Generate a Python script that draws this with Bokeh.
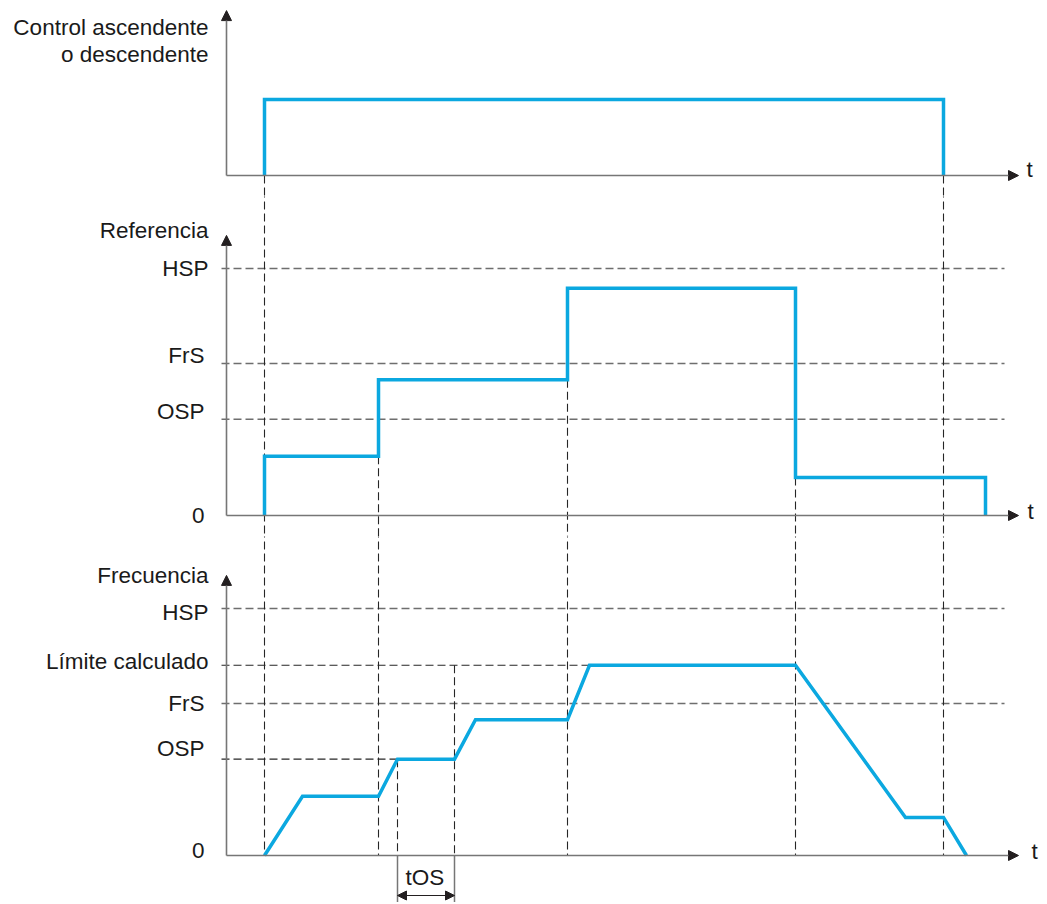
from bokeh.plotting import figure
from bokeh.models import Range1d, Arrow, NormalHead
from bokeh.layouts import column
from bokeh.embed import file_html
from bokeh.resources import INLINE
from bokeh.core.properties import value

# ---------------- data (time in arbitrary units, origin at the vertical axis) ----------------
ctrl_t = [38, 38, 717, 717]
ctrl_v = [0, 1, 1, 0]

ref_t = [38, 38, 152, 152, 341, 341, 569, 569, 759, 759]
ref_v = [0, 24, 24, 55, 55, 92, 92, 15.4, 15.4, 0]

freq_t = [38, 76, 152, 171, 228, 249, 341, 363, 569, 679, 717, 740]
freq_v = [0, 24, 24, 39, 39, 55, 55, 77, 77, 15.4, 15.4, 0]

level_names = ["HSP", "FrS", "OSP", "0"]
level_vals = [100, 61.5, 39, 0]
limit_name = "Límite calculado"
limit_val = 77

ctrl_title = ["Control ascendente", "o descendente"]
ref_title = "Referencia"
freq_title = "Frecuencia"
time_label = "t"
tos_label = "tOS"

# ---------------- styles ----------------
BLUE = "#0BA8E0"
AXIS = "#767676"
HEAD = "#231f20"
GRAY_DASH = "#6e6e6e"
BLACK_DASH = "#262626"
TXT = "#1a1a1a"
FONT = value("Liberation Sans")
FS = "22.5px"

W = 1045
xr = Range1d(-226, -226 + W)
T_END = 792          # end of time axes (arrow tip)
H_END = 778          # end of horizontal dashed lines
H_START = -5


def make_fig(h, y0, y1):
    f = figure(width=W, height=h, x_range=xr, y_range=Range1d(y0, y1),
               output_backend="svg", toolbar_location=None, min_border=0,
               x_axis_location=None, y_axis_location=None,
               outline_line_color=None, background_fill_color="white",
               border_fill_color="white")
    f.grid.visible = False
    return f


def label(f, xs, ys, texts, yoff, align="right"):
    f.text(x=xs, y=ys, text=texts, y_offset=yoff, text_font=FONT,
           text_font_size=FS, text_color=TXT, text_align=align,
           text_baseline="middle")


def axes(f, ytop, t_xoff, t_yoff):
    f.add_layout(Arrow(end=NormalHead(size=10, fill_color=HEAD, line_color=HEAD),
                       x_start=0, y_start=0, x_end=0, y_end=ytop,
                       line_color=AXIS, line_width=1.6))
    f.add_layout(Arrow(end=NormalHead(size=10, fill_color=HEAD, line_color=HEAD),
                       x_start=0, y_start=0, x_end=T_END, y_end=0,
                       line_color=AXIS, line_width=1.6))
    f.text(x=[T_END], y=[0], text=[time_label], text_font=FONT, text_font_size=FS,
           text_color=TXT, text_align="left", text_baseline="middle",
           x_offset=t_xoff, y_offset=t_yoff)


# ---------------- top panel: control ----------------
top = make_fig(196, -0.276, 2.303)
ev_full = [ctrl_t[0], ctrl_t[2]]
top.segment(x0=ev_full, y0=[0, 0], x1=ev_full, y1=[-1, -1],
            line_color=BLACK_DASH, line_width=1.1, line_dash="8 4")
axes(top, 2.17, 8, -6)
top.line(ctrl_t, ctrl_v, line_color=BLUE, line_width=3.5, line_join="miter")
label(top, [-18, -18], [1.947, 1.586], ctrl_title, [0, 0])

# ---------------- middle panel: reference ----------------
mid = make_fig(340, -8.502, 129.15)
gl = level_vals[:3]
mid.segment(x0=[H_START] * 3, y0=gl, x1=[H_END] * 3, y1=gl,
            line_color=GRAY_DASH, line_width=1.5, line_dash="8 4")
# vertical event lines
mid.segment(x0=ev_full, y0=[200, 200], x1=ev_full, y1=[-50, -50],
            line_color=BLACK_DASH, line_width=1.1, line_dash="8 4")
step_t, step_y = [], []
for i in (2, 4, 6):
    step_t.append(ref_t[i])
    step_y.append(min(ref_v[i], ref_v[i + 1]))
mid.segment(x0=step_t, y0=step_y, x1=step_t, y1=[-50] * 3,
            line_color=BLACK_DASH, line_width=1.1, line_dash="8 4")
axes(mid, 113.4, 9, -4)
mid.line(ref_t, ref_v, line_color=BLUE, line_width=3.5, line_join="miter")
label(mid, [-18], [115.4], [ref_title], [0])
label(mid, [-18, -22, -22, -22], level_vals, level_names, [0, -8, -8, 0])

# ---------------- bottom panel: frequency ----------------
bot = make_fig(366, -19.03, 129.15)
bot.segment(x0=[H_START] * 2, y0=[level_vals[0], level_vals[1]],
            x1=[H_END] * 2, y1=[level_vals[0], level_vals[1]],
            line_color=GRAY_DASH, line_width=1.5, line_dash="8 4")
# limit and OSP lines end where the frequency reaches them
bot.segment(x0=[H_START, H_START], y0=[limit_val, level_vals[2]],
            x1=[freq_t[7], freq_t[3]], y1=[limit_val, level_vals[2]],
            line_color=BLACK_DASH, line_width=1.1, line_dash="8 4")
ev_bot = ev_full + step_t
bot.segment(x0=ev_bot, y0=[200] * len(ev_bot), x1=ev_bot, y1=[0] * len(ev_bot),
            line_color=BLACK_DASH, line_width=1.1, line_dash="8 4")
tos_t = [freq_t[3], freq_t[4]]
bot.segment(x0=tos_t, y0=[level_vals[2], limit_val], x1=tos_t, y1=[0, 0],
            line_color=BLACK_DASH, line_width=1.1, line_dash="8 4")
# tOS bracket
bot.segment(x0=tos_t, y0=[0, 0], x1=tos_t, y1=[-30, -30],
            line_color=AXIS, line_width=1.5)
bot.add_layout(Arrow(start=NormalHead(size=9, fill_color=HEAD, line_color=HEAD),
                     end=NormalHead(size=9, fill_color=HEAD, line_color=HEAD),
                     x_start=tos_t[0], y_start=-16.2, x_end=tos_t[1], y_end=-16.2,
                     line_color=HEAD, line_width=1.2))
bot.text(x=[(tos_t[0] + tos_t[1]) / 2 - 1], y=[-9.1], text=[tos_label], text_font=FONT,
         text_font_size=FS, text_color=TXT, text_align="center",
         text_baseline="middle")
axes(bot, 113.4, 13, -4)
bot.line(freq_t, freq_v, line_color=BLUE, line_width=3.5, line_join="miter")
label(bot, [-18], [113.4], [freq_title], [0])
label(bot, [-18, -18, -22, -22, -22],
      [level_vals[0], limit_val, level_vals[1], level_vals[2], level_vals[3]],
      [level_names[0], limit_name, level_names[1], level_names[2], level_names[3]],
      [4, -4, 0, -11, -5])

layout = column(top, mid, bot, spacing=0)
open("out.html", "w").write(file_html(layout, INLINE))
